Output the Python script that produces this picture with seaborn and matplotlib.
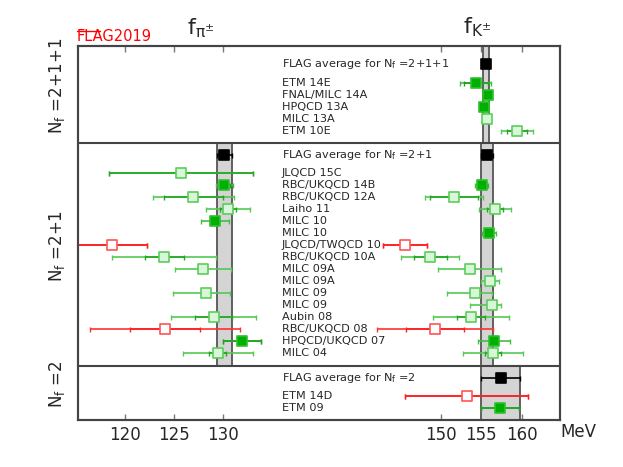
import numpy as np
import pandas as pd
import matplotlib
matplotlib.use("Agg")
import matplotlib.pyplot as plt
import seaborn as sns
from matplotlib.lines import Line2D
from matplotlib.transforms import blended_transform_factory

# ---------------- data (MeV) ----------------
nan = np.nan

# Nf = 2+1+1 (fK only)
n4_names = ["ETM 14E", "FNAL/MILC 14A", "HPQCD 13A", "MILC 13A", "ETM 10E"]
n4_status = ["in", "in", "in", "ok", "ok"]
n4_fpi = [nan, nan, nan, nan, nan]
n4_fpi_stat = [nan] * 5
n4_fpi_lo = [nan] * 5
n4_fpi_hi = [nan] * 5
n4_fk = [154.3, 155.8, 155.3, 155.7, 159.4]
n4_fk_stat = [1.5, 0.2, 0.3, 0.3, 1.25]
n4_fk_lo = [1.95, 0.4, 0.45, 0.4, 1.95]
n4_fk_hi = [1.95, 0.4, 0.45, 0.4, 1.95]
n4_avg_fpi = (nan, nan)
n4_avg_fk = (155.6, 0.35)

# Nf = 2+1
n3_names = ["JLQCD 15C", "RBC/UKQCD 14B", "RBC/UKQCD 12A", "Laiho 11", "MILC 10",
            "MILC 10", "JLQCD/TWQCD 10", "RBC/UKQCD 10A", "MILC 09A", "MILC 09A",
            "MILC 09", "MILC 09", "Aubin 08", "RBC/UKQCD 08", "HPQCD/UKQCD 07", "MILC 04"]
n3_status = ["ok", "in", "ok", "ok", "in", "in", "bad", "ok", "ok", "ok",
             "ok", "ok", "ok", "bad", "in", "ok"]
n3_fpi = [125.7, 130.2, 127.0, 130.55, 129.2, nan, 118.6, 124.0, 128.0, nan,
          128.3, nan, 129.1, 124.1, 132.0, 129.5]
n3_fpi_stat = [7.4, 0.6, 3.0, 0.85, 0.4, nan, 3.6, 2.0, 0.3, nan,
               0.3, nan, 1.9, 3.6, 2.0, 0.9]
n3_fpi_lo = [7.4, 0.85, 4.2, 2.25, 1.45, nan, 3.6, 5.35, 2.9, nan,
             3.4, nan, 4.4, 7.75, 2.0, 3.6]
n3_fpi_hi = [7.4, 0.85, 4.2, 2.25, 1.45, nan, 3.6, 5.35, 2.9, nan,
             2.5, nan, 4.4, 7.75, 2.0, 3.6]
n3_fk = [nan, 155.05, 151.6, 156.7, nan, 155.95, 145.55, 148.7, 153.6, 156.1,
         154.2, 156.35, 153.75, 149.25, 156.55, 156.45]
n3_fk_stat = [nan, 0.6, 3.0, 1.0, nan, 0.4, 2.67, 2.0, 0.5, 0.4,
              0.3, 0.4, 1.7, 3.6, 0.3, 1.0]
n3_fk_lo = [nan, 0.83, 3.6, 1.95, nan, 0.9, 2.67, 3.6, 3.9, 1.1,
            3.4, 2.7, 4.7, 7.2, 2.0, 3.7]
n3_fk_hi = [nan, 0.83, 3.6, 1.95, nan, 0.9, 2.67, 3.6, 3.9, 1.1,
            2.1, 1.05, 4.7, 7.2, 2.0, 3.7]
n3_avg_fpi = (130.2, 0.8)
n3_avg_fk = (155.7, 0.7)

# Nf = 2
n2_names = ["ETM 14D", "ETM 09"]
n2_status = ["bad", "in"]
n2_fpi = [nan, nan]
n2_fpi_stat = [nan, nan]
n2_fpi_lo = [nan, nan]
n2_fpi_hi = [nan, nan]
n2_fk = [153.2, 157.3]
n2_fk_stat = [7.6, 2.35]
n2_fk_lo = [7.6, 2.35]
n2_fk_hi = [7.6, 2.35]
n2_avg_fpi = (nan, nan)
n2_avg_fk = (157.4, 2.4)

panel_labels = ["2+1+1", "2+1", "2"]

# ---------------- layout ----------------
pad_top = [1.5, 1.05, 1.0]
gap = [1.55, 1.5, 1.5]
pad_bot = [1.0, 1.05, 1.0]

panels = [
    (n4_names, n4_status, n4_fpi, n4_fpi_stat, n4_fpi_lo, n4_fpi_hi,
     n4_fk, n4_fk_stat, n4_fk_lo, n4_fk_hi, n4_avg_fpi, n4_avg_fk),
    (n3_names, n3_status, n3_fpi, n3_fpi_stat, n3_fpi_lo, n3_fpi_hi,
     n3_fk, n3_fk_stat, n3_fk_lo, n3_fk_hi, n3_avg_fpi, n3_avg_fk),
    (n2_names, n2_status, n2_fpi, n2_fpi_stat, n2_fpi_lo, n2_fpi_hi,
     n2_fk, n2_fk_stat, n2_fk_lo, n2_fk_hi, n2_avg_fpi, n2_avg_fk),
]

face = {"in": "#00b000", "ok": "#d8f6d8", "bad": "white", "avg": "black"}
edge = {"in": "#30c030", "ok": "#5ccc5c", "bad": "#ff5555", "avg": "black"}
bar_out = {"in": "#40c040", "ok": "#55c855", "bad": "#ff3030", "avg": "black"}
bar_in = {"in": "#20a020", "ok": "#22a822", "bad": "#ff2020", "avg": "black"}

sns.set_style("ticks")
plt.rcParams["font.family"] = ["DejaVu Sans"]
plt.rcParams["mathtext.default"] = "regular"

fig = plt.figure(figsize=(6.23, 4.67), dpi=100)
ax = fig.add_axes([77.7 / 623, 1 - 420 / 467, 482.3 / 623, 374 / 467])
ax2 = ax.twiny()
axes_q = {"pi": ax, "k": ax2}

rows = []
y0 = 0.0
bounds = []
for i, p in enumerate(panels):
    names, status = p[0], p[1]
    avg_y = y0 + pad_top[i]
    ys = avg_y + gap[i] + np.arange(len(names))
    y1 = ys[-1] + pad_bot[i]
    bounds.append((y0, y1, avg_y))
    rows.append((avg_y, ys))
    y0 = y1

tr = blended_transform_factory(ax.transAxes, ax.transData)
recs = []
for i, p in enumerate(panels):
    names, status, fpi, fpi_st, fpi_lo, fpi_hi, fk, fk_st, fk_lo, fk_hi, avg_pi, avg_k = p
    ya, yb, _ = bounds[i]
    avg_y, ys = rows[i]
    # FLAG average bands
    for q, (v, e) in (("pi", avg_pi), ("k", avg_k)):
        if np.isnan(v):
            continue
        a = axes_q[q]
        a.fill_betweenx([ya, yb], v - e, v + e, facecolor="#d4d4d4",
                        edgecolor="#555555", linewidth=1.3, zorder=1)
        a.errorbar(v, avg_y, xerr=e, fmt="none", ecolor="black", elinewidth=1.2,
                   capsize=1.8, capthick=1.0, zorder=3)
        recs.append(dict(q=q, x=v, y=avg_y, status="avg"))
    lab = "FLAG average for N$_f$ =" + panel_labels[i]
    ax.text(0.4236, avg_y, lab, transform=tr, fontsize=8.1, va="center", ha="left", zorder=6)
    for j, name in enumerate(names):
        ax.text(0.4236, ys[j], name, transform=tr, fontsize=8.1, va="center", ha="left", zorder=6)
        for q, vals, st, lo, hi in (("pi", fpi, fpi_st, fpi_lo, fpi_hi),
                                    ("k", fk, fk_st, fk_lo, fk_hi)):
            v = vals[j]
            if np.isnan(v):
                continue
            a = axes_q[q]
            s = status[j]
            a.errorbar(v, ys[j], xerr=[[lo[j]], [hi[j]]], fmt="none", ecolor=bar_out[s],
                       elinewidth=1.2, capsize=1.8, capthick=1.0, zorder=3)
            a.errorbar(v, ys[j], xerr=st[j], fmt="none", ecolor=bar_in[s],
                       elinewidth=1.2, capsize=1.8, capthick=1.0, zorder=4)
            recs.append(dict(q=q, x=v, y=ys[j], status=s))
    # Nf label on the left
    ax.text(-0.043, (ya + yb) / 2 - 0.7, "N$_f$ =" + panel_labels[i], transform=tr,
            rotation=90, fontsize=12, ha="center", va="center")

df = pd.DataFrame(recs)
for q, a in axes_q.items():
    for s in ["ok", "bad", "in", "avg"]:
        sub = df[(df.q == q) & (df.status == s)]
        if len(sub) == 0:
            continue
        sns.scatterplot(data=sub, x="x", y="y", ax=a, marker="s", s=50,
                        color=face[s], edgecolor=edge[s], linewidth=1.2,
                        zorder=5, legend=False)
    a.set_xlabel("")
    a.set_ylabel("")

# panel separators
for ya, yb, _ in bounds[:-1]:
    ax2.axhline(yb, color="#444444", linewidth=1.5, zorder=7)

ax.set_ylim(bounds[-1][1], 0)
ax.set_yticks([])
ax.set_xlim(115.08, 164.77)
ax.set_xticks([120, 125, 130])
ax2.set_xlim(105.02, 164.75)
ax2.set_xticks([150, 155, 160])
for a in (ax, ax2):
    a.tick_params(axis="x", direction="in", top=True, bottom=True, labelsize=12,
                  length=4, width=1.0, color="#777777", pad=4)
    for sp in a.spines.values():
        sp.set_color("#444444")
        sp.set_linewidth(1.5)
ax2.tick_params(axis="x", labelbottom=True, labeltop=False)
ax.tick_params(axis="y", left=False, right=False)
ax2.tick_params(axis="y", left=False, right=False)

fig.text(201 / 623, 1 - 28 / 467, r"$f_{\pi^{\pm}}$", fontsize=16, ha="center", va="center")
fig.text(477 / 623, 1 - 27 / 467, r"$f_{K^{\pm}}$", fontsize=16, ha="center", va="center")
fig.text(578 / 623, 1 - 432 / 467, "MeV", fontsize=12, ha="center", va="center")
fig.text(77 / 623, 1 - 36.5 / 467, "FLAG2019", color="red", fontsize=10.5, ha="left", va="center")
fig.add_artist(Line2D([77 / 623, 100 / 623], [1 - 31 / 467] * 2, transform=fig.transFigure,
                      color="red", linewidth=1.0))

fig.savefig("out.png", dpi=100)
